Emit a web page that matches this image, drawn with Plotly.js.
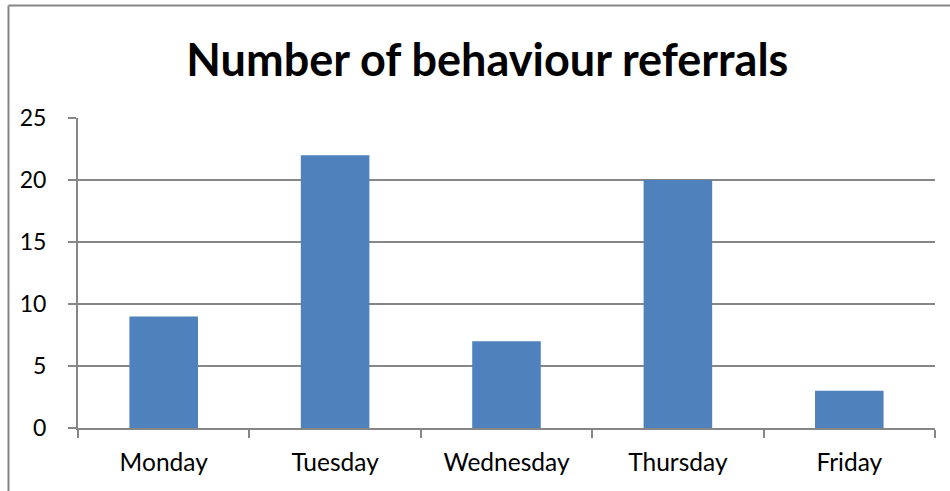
<!DOCTYPE html>
<html>
<head>
<meta charset="utf-8">
<script src="https://cdn.plot.ly/plotly-3.0.1.min.js"></script>
<style>
html,body{margin:0;padding:0;background:#fff;}
#chart{width:950px;height:491px;}
</style>
</head>
<body>
<div id="chart"></div>
<script>
const days = ["Monday", "Tuesday", "Wednesday", "Thursday", "Friday"];
const referrals = [9, 22, 7, 20, 3];
const yTicks = [0, 5, 10, 15, 20, 25];
const chartTitle = "Number of behaviour referrals";

const trace = {
  type: "bar",
  x: days,
  y: referrals,
  marker: {color: "#4F81BD", line: {width: 0}},
  hoverinfo: "x+y"
};

const gray = "#868686";
const layout = {
  width: 950,
  height: 491,
  margin: {l: 78, r: 15, t: 118, b: 63},
  paper_bgcolor: "#ffffff",
  plot_bgcolor: "#ffffff",
  font: {family: "Lato, 'Open Sans', sans-serif", size: 22, color: "#000000"},
  title: {
    text: "<b>" + chartTitle + "</b>",
    font: {family: "Lato, 'Open Sans', sans-serif", size: 45, color: "#000000"},
    x: 0.513, xanchor: "center",
    y: 0.878, yanchor: "middle", yref: "container"
  },
  bargap: 0.6,
  showlegend: false,
  xaxis: {
    type: "category",
    showgrid: false,
    showline: true,
    linecolor: gray,
    linewidth: 2,
    ticks: "outside",
    tickson: "boundaries",
    ticklen: 8,
    tickwidth: 2,
    tickcolor: gray,
    tickfont: {size: 24.5, color: "#000000"},
    ticklabelstandoff: 12,
    zeroline: false,
    fixedrange: true
  },
  yaxis: {
    range: [0, 25],
    tickvals: yTicks,
    ticktext: yTicks.map(String),
    showgrid: true,
    gridcolor: gray,
    gridwidth: 2,
    showline: true,
    linecolor: gray,
    linewidth: 2,
    ticks: "outside",
    ticklen: 8,
    tickwidth: 2,
    tickcolor: gray,
    tickfont: {size: 23, color: "#000000"},
    ticklabelstandoff: 17,
    zeroline: false,
    fixedrange: true
  },
  shapes: [
    {type: "line", xref: "paper", yref: "paper", x0: -0.0811, x1: 1.1, y0: 1.3629, y1: 1.3629, line: {color: gray, width: 2}},
    {type: "line", xref: "paper", yref: "paper", x0: -0.0811, x1: -0.0811, y0: 1.3629, y1: -0.3, line: {color: gray, width: 2}}
  ]
};

Plotly.newPlot("chart", [trace], layout, {displayModeBar: false, staticPlot: true});
</script>
</body>
</html>
